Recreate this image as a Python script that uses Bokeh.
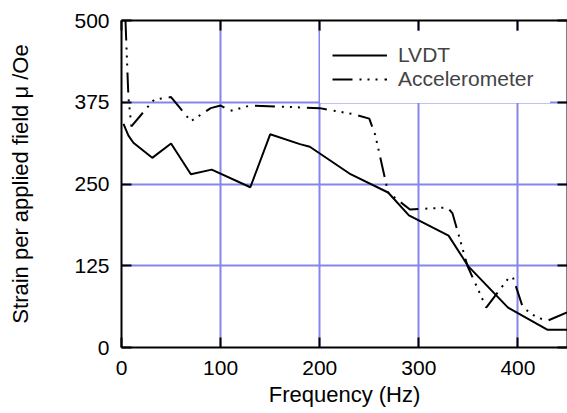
from bokeh.plotting import figure
from bokeh.models import LinearAxis, FixedTicker, Range1d, Legend, LegendItem
from bokeh.embed import file_html
from bokeh.resources import INLINE

# Data
lvdt_freq = [2, 7, 12, 31, 50, 70, 91, 130, 150, 180, 190, 230, 269, 290, 330, 350, 390, 430, 450]
lvdt_strain = [342, 324, 313, 290, 312, 265, 272, 245, 326, 311, 307, 266, 237, 202, 171, 124, 61, 27, 27]

acc_freq = [4, 7, 10, 26, 33, 50, 70, 90, 100, 110, 130, 200, 233, 250, 256, 269, 291, 329, 334, 349, 368, 391, 395, 405, 419, 430, 450]
acc_strain = [500, 382, 338, 367, 379, 383, 346, 366, 370, 362, 370, 366, 357, 350, 325, 237, 211, 214, 205, 125, 61, 107, 107, 61, 46, 41, 54]

x_ticks = [0, 100, 200, 300, 400]
y_ticks = [0, 125, 250, 375, 500]

FONT = "Liberation Sans"
GRID = "#8585ea"

p = figure(width=567, height=413, output_backend="svg", toolbar_location=None,
           x_range=Range1d(0, 450), y_range=Range1d(0, 500),
           min_border_left=121, min_border_right=0, min_border_top=20, min_border_bottom=66,
           x_axis_label="Frequency (Hz)", y_axis_label="Strain per applied field \u03bc /Oe")
p.outline_line_color = None
p.background_fill_color = "white"
p.border_fill_color = "white"

for ax in p.xaxis + p.yaxis:
    ax.axis_line_width = 2
    ax.axis_line_color = "black"
    ax.major_tick_in = 10
    ax.major_tick_out = 0
    ax.major_tick_line_width = 2
    ax.major_tick_line_color = "black"
    ax.minor_tick_line_color = None
    ax.major_label_text_font = FONT
    ax.major_label_text_font_size = "21px"
    ax.major_label_text_color = "black"
    ax.axis_label_text_font = FONT
    ax.axis_label_text_font_size = "22px"
    ax.axis_label_text_font_style = "normal"
    ax.axis_label_text_color = "black"

p.xaxis.ticker = FixedTicker(ticks=x_ticks)
p.yaxis.ticker = FixedTicker(ticks=y_ticks)
p.xaxis.major_label_standoff = 13
p.yaxis.major_label_standoff = 12
p.xaxis.axis_label_standoff = 4
p.yaxis.axis_label_standoff = 38

# mirrored axes (ticks only, no labels)
for loc, tick in (("above", x_ticks), ("right", y_ticks)):
    ax = LinearAxis(ticker=FixedTicker(ticks=tick), major_label_text_font_size="0px",
                    major_label_text_color=None,
                    major_label_standoff=0, major_tick_in=10, major_tick_out=0,
                    major_tick_line_width=2, axis_line_width=2,
                    minor_tick_line_color=None)
    p.add_layout(ax, loc)

p.xgrid.ticker = FixedTicker(ticks=x_ticks)
p.ygrid.ticker = FixedTicker(ticks=y_ticks)
for g in (p.xgrid, p.ygrid):
    g.grid_line_color = GRID
    g.grid_line_width = 2
    g.grid_line_alpha = 1

r1 = p.line(lvdt_freq, lvdt_strain, line_color="black", line_width=2)
r2 = p.line(acc_freq, acc_strain, line_color="black", line_width=2,
            line_dash="20 7 2 6 2 6 2 7")

legend = Legend(items=[LegendItem(label="LVDT", renderers=[r1]),
                       LegendItem(label="Accelerometer", renderers=[r2])],
                location=(199, 244), padding=12, spacing=0, margin=0,
                glyph_width=55, glyph_height=20, label_height=20,
                label_standoff=11, label_width=140,
                label_text_font=FONT, label_text_font_size="21px",
                border_line_alpha=0, background_fill_color="white",
                background_fill_alpha=1)
p.add_layout(legend)

open("out.html", "w").write(file_html(p, INLINE))
